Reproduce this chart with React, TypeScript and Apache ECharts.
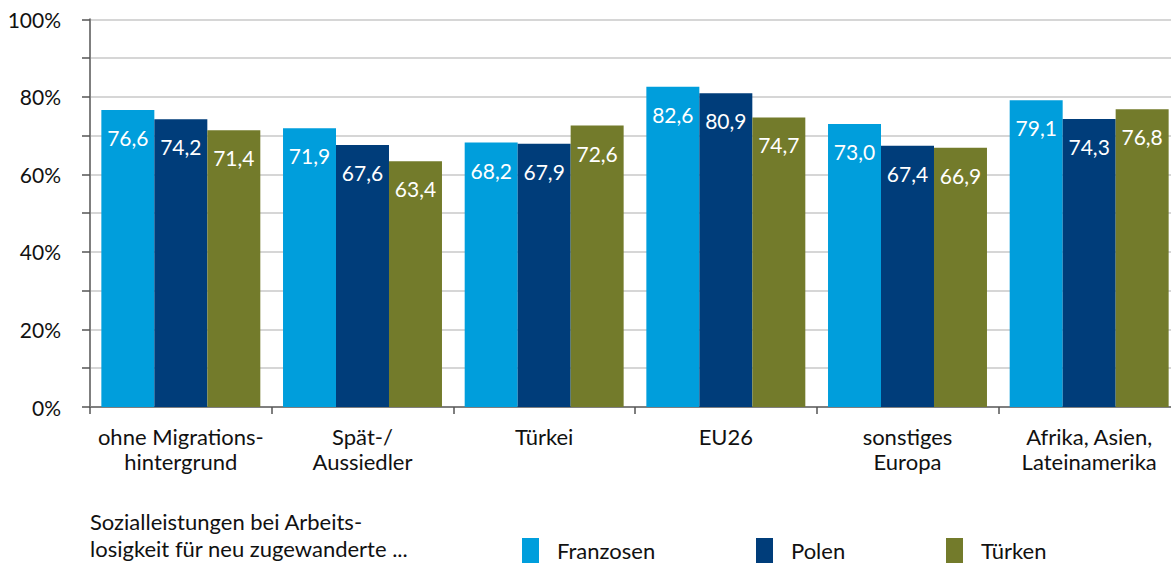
import React, { useEffect, useRef } from "react";
import * as echarts from "echarts";

const categories = [
  "ohne Migrations-\nhintergrund",
  "Spät-/\nAussiedler",
  "Türkei",
  "EU26",
  "sonstiges\nEuropa",
  "Afrika, Asien,\nLateinamerika",
];
const franzosen = [76.6, 71.9, 68.2, 82.6, 73.0, 79.1];
const polen = [74.2, 67.6, 67.9, 80.9, 67.4, 74.3];
const tuerken = [71.4, 63.4, 72.6, 74.7, 66.9, 76.8];
const seriesNames = ["Franzosen", "Polen", "Türken"];
const colors = ["#009edc", "#003d7a", "#737b2b"];
const footnote = "Sozialleistungen bei Arbeits-\nlosigkeit für neu zugewanderte ...";

const FONT = "Lato, 'Open Sans', sans-serif";

export default function App() {
  const ref = useRef<HTMLDivElement>(null);
  useEffect(() => {
    if (!ref.current) return;
    const chart = echarts.init(ref.current, undefined, { renderer: "svg" });
    const values = [franzosen, polen, tuerken];
    const legendLefts = [522, 756, 946];
    chart.setOption({
      animation: false,
      textStyle: { fontFamily: FONT },
      grid: { left: 90, top: 19.3, bottom: 157, right: 0, containLabel: false },
      xAxis: {
        type: "category",
        data: categories,
        boundaryGap: true,
        axisLine: { show: true, lineStyle: { color: "#7f7f7f", width: 2 } },
        axisTick: { show: true, interval: 0, length: 7, lineStyle: { color: "#555", width: 1.5 } },
        axisLabel: {
          interval: 0,
          margin: 17,
          color: "#111",
          fontSize: 22,
          lineHeight: 25,
          fontFamily: FONT,
        },
      },
      yAxis: {
        type: "value",
        min: 0,
        max: 100,
        interval: 10,
        axisLine: { show: true, lineStyle: { color: "#7f7f7f", width: 2 } },
        axisTick: { show: true, length: 8, lineStyle: { color: "#555", width: 1.5 } },
        splitLine: { show: true, lineStyle: { color: "#c8c8c8", width: 1.5 } },
        axisLabel: {
          margin: 29,
          color: "#111",
          fontSize: 21,
          fontFamily: FONT,
          formatter: (v: number) => (v % 20 === 0 ? v + "%" : ""),
        },
      },
      legend: seriesNames.map((n, i) => ({
        data: [n],
        left: legendLefts[i],
        top: 538,
        padding: 0,
        itemWidth: 17,
        itemHeight: 25,
        itemGap: 10,
        icon: "rect",
        textStyle: { fontSize: 22, color: "#111", fontFamily: FONT, padding: [0, 0, 0, 13] },
      })),
      graphic: [
        {
          type: "text",
          left: 90,
          top: 508,
          style: {
            text: footnote,
            fontSize: 22,
            lineHeight: 27,
            fill: "#111",
            fontFamily: FONT,
          },
        },
      ],
      series: seriesNames.map((n, i) => ({
        name: n,
        type: "bar",
        data: values[i],
        barGap: "0%",
        barCategoryGap: "12.5%",
        itemStyle: { color: colors[i] },
        label: {
          show: true,
          position: "insideTop",
          distance: 17,
          color: "#fff",
          fontSize: 21,
          fontFamily: FONT,
          formatter: (p: any) => Number(p.value).toFixed(1).replace(".", ","),
        },
      })),
    });
    return () => chart.dispose();
  }, []);
  return (
    <div
      style={{
        position: "absolute",
        left: 0,
        top: 0,
        width: 1171,
        height: 564,
        overflow: "hidden",
      }}
    >
      <div ref={ref} style={{ width: 1180, height: 564 }} />
    </div>
  );
}
